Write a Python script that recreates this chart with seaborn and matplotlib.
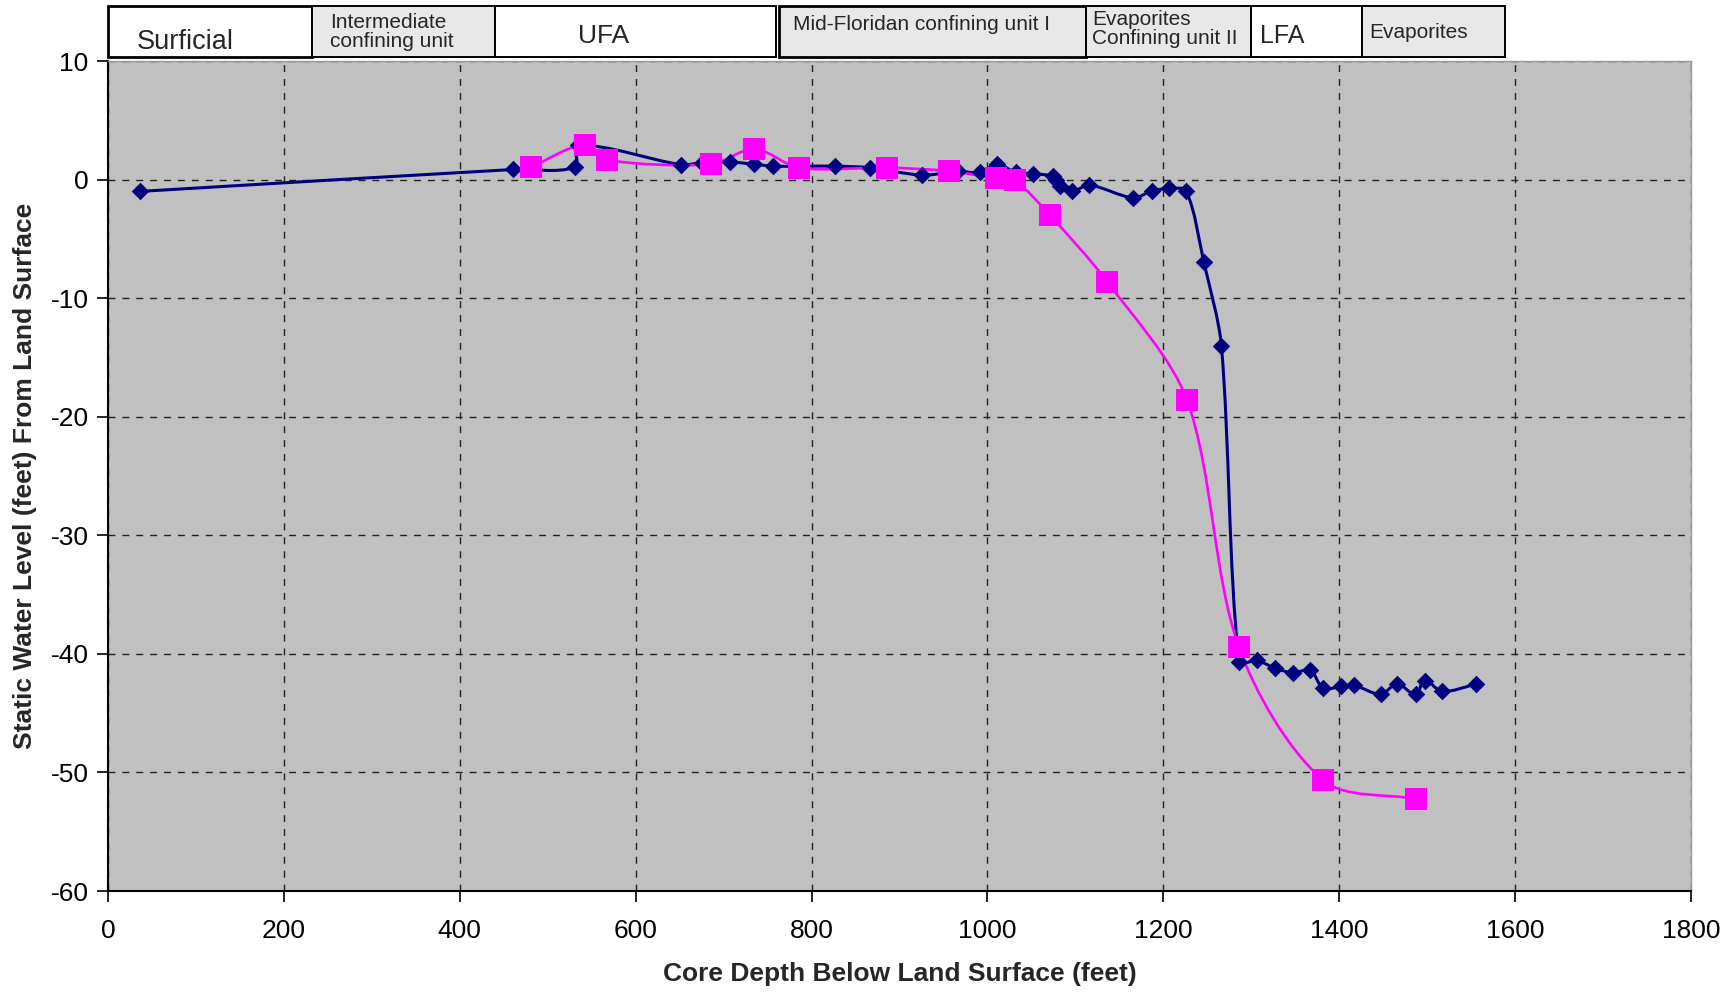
import numpy as np
import pandas as pd
import matplotlib
matplotlib.use("Agg")
import matplotlib.pyplot as plt
import seaborn as sns
from matplotlib.path import Path
from matplotlib.patches import PathPatch, Rectangle

# Series 1 (navy diamonds): core depth (ft) vs static water level (ft)
depth_1 = [36, 461, 531, 534, 652, 675, 707, 735, 756, 827, 867, 926, 966, 991,
           1011, 1032, 1052, 1074, 1078, 1082, 1096, 1116, 1166, 1187, 1207, 1226,
           1246, 1266, 1286, 1306, 1327, 1347, 1367, 1382, 1402, 1417, 1447, 1466,
           1487, 1497, 1517, 1556]
level_1 = [-1.0, 0.85, 1.05, 2.9, 1.25, 1.42, 1.48, 1.3, 1.13, 1.13, 1.0, 0.37, 0.7, 0.6,
           1.3, 0.6, 0.5, 0.3, 0.0, -0.55, -1.0, -0.47, -1.55, -0.95, -0.75, -0.97,
           -6.95, -14.0, -40.7, -40.56, -41.2, -41.6, -41.4, -42.9, -42.75, -42.66, -43.4, -42.55,
           -43.4, -42.27, -43.17, -42.55]

# Series 2 (magenta squares)
depth_2 = [481, 542, 567, 686, 735, 786, 886, 956, 1010, 1031, 1071, 1136, 1227, 1286, 1382, 1487]
level_2 = [1.04, 2.95, 1.65, 1.3, 2.58, 0.99, 1.0, 0.72, 0.1, -0.07, -3.0, -8.6, -18.6, -39.45, -50.67, -52.24]

# hydrostratigraphic units shown in the boxes above the plot
units = ["Surficial", "Intermediate\nconfining unit", "UFA", "Mid-Floridan confining unit I",
         "Evaporites\nConfining unit II", "LFA", "Evaporites"]

NAVY = "#000080"
MAGENTA = "#FF00FF"


def smooth_line(ax, xs, ys, color, lw, t=0.3):
    # Excel-style smoothed line: cubic bezier through the points
    pts = ax.transData.transform(np.column_stack([xs, ys]))
    n = len(pts)
    verts = [pts[0]]
    codes = [Path.MOVETO]
    for i in range(n - 1):
        p0, p1, p2, p3 = pts[max(i - 1, 0)], pts[i], pts[i + 1], pts[min(i + 2, n - 1)]
        seg = np.hypot(*(p2 - p1))
        d1 = (p2 - p0) / np.hypot(*(p2 - p0))
        d2 = (p3 - p1) / np.hypot(*(p3 - p1))
        verts += [p1 + d1 * seg * t, p2 - d2 * seg * t, p2]
        codes += [Path.CURVE4] * 3
    path = Path(ax.transData.inverted().transform(np.array(verts)), codes)
    ax.add_patch(PathPatch(path, fill=False, edgecolor=color, lw=lw, capstyle="round",
                           joinstyle="round"))


sns.set_theme(style="white")
plt.rcParams["font.family"] = ["Liberation Sans", "DejaVu Sans"]
plt.rcParams["axes.unicode_minus"] = False

W, H = 1732, 996
fig = plt.figure(figsize=(W / 100, H / 100), dpi=100)
ax = fig.add_axes([108 / W, 1 - 891 / H, (1691 - 108) / W, (891 - 61) / H])
ax.set_facecolor("#C0C0C0")
ax.set_xlim(0, 1800)
ax.set_ylim(-60, 10)

df1 = pd.DataFrame({"depth": depth_1, "level": level_1})
df2 = pd.DataFrame({"depth": depth_2, "level": level_2})

smooth_line(ax, depth_1, level_1, NAVY, 2.2)
sns.scatterplot(data=df1, x="depth", y="level", marker="D", s=80, color=NAVY,
                linewidth=0, ax=ax, zorder=3)
smooth_line(ax, depth_2, level_2, MAGENTA, 1.9)
sns.scatterplot(data=df2, x="depth", y="level", marker="s", s=260, color=MAGENTA,
                linewidth=0, ax=ax, zorder=4)

ax.set_xticks(np.arange(0, 1801, 200))
ax.set_yticks(np.arange(-60, 11, 10))
ax.grid(True, color="#222222", linestyle=(0, (5, 5)), linewidth=1.0)
ax.tick_params(direction="out", length=8, width=1.2, colors="black", labelsize=19,
               bottom=True, left=True, pad=6)
ax.tick_params(axis="x", pad=12)
for side in ["left", "bottom"]:
    ax.spines[side].set_color("black")
    ax.spines[side].set_linewidth(1.5)
for side in ["top", "right"]:
    ax.spines[side].set_color("#9a9a9a")
    ax.spines[side].set_linewidth(1.0)

ax.set_xlabel("Core Depth Below Land Surface (feet)", fontsize=19, fontweight="bold",
              labelpad=14)
ax.set_ylabel("Static Water Level (feet) From Land Surface", fontsize=19,
              fontweight="bold", labelpad=10)

# unit boxes across the top (pixel layout)
box_x = [(108, 312), (312, 495), (495, 776), (779, 1086), (1086, 1251), (1251, 1362), (1362, 1505)]
box_fill = ["white", "#E8E8E8", "white", "#E8E8E8", "#E8E8E8", "white", "#E8E8E8"]
box_lw = [2.0, 1.4, 1.4, 2.0, 1.4, 1.4, 1.4]
text_pos = [(137, 42, 19.5), (330, 32, 15), (578, 36, 19), (793, 25, 15),
            (1092, 29, 15), (1260, 36, 18), (1369, 32, 15)]
for (x0, x1), fc, lw, name, (tx, ty, fs) in zip(box_x, box_fill, box_lw, units, text_pos):
    fig.add_artist(Rectangle((x0 / W, 1 - 57 / H), (x1 - x0) / W, 51 / H,
                             transform=fig.transFigure, facecolor=fc, edgecolor="black",
                             lw=lw))
    fig.text(tx / W, 1 - ty / H, name, fontsize=fs, ha="left", va="center",
             linespacing=0.95)

fig.savefig("out.png", dpi=100, facecolor="white")
